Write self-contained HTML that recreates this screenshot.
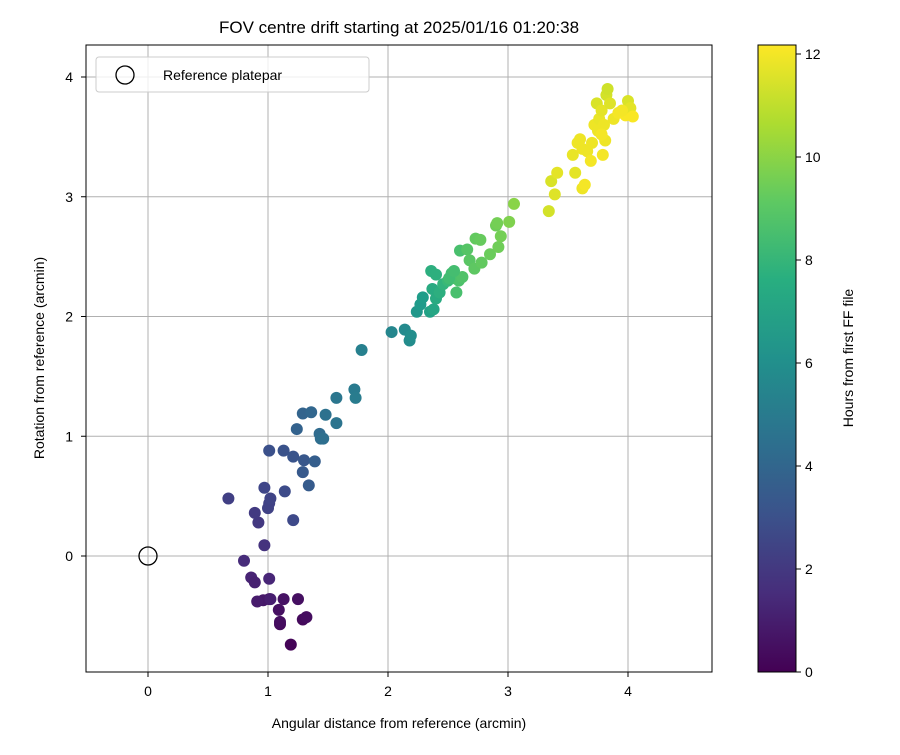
<!DOCTYPE html>
<html><head><meta charset="utf-8"><style>
body{margin:0;background:#fff;}
svg text{font-family:"Liberation Sans","DejaVu Sans",sans-serif;fill:#000;}
</style></head><body>
<svg id="chart" width="900" height="750" viewBox="0 0 900 750" xmlns="http://www.w3.org/2000/svg">
<defs>
<linearGradient id="vir" x1="0" y1="1" x2="0" y2="0">
<stop offset="0" stop-color="#440154"/><stop offset="0.125" stop-color="#472d7b"/><stop offset="0.25" stop-color="#3b528b"/><stop offset="0.375" stop-color="#2c728e"/><stop offset="0.5" stop-color="#21918c"/><stop offset="0.625" stop-color="#28ae80"/><stop offset="0.75" stop-color="#5ec962"/><stop offset="0.875" stop-color="#addc30"/><stop offset="1" stop-color="#fde725"/>
</linearGradient>
</defs>
<text x="399" y="33" font-size="17" text-anchor="middle">FOV centre drift starting at 2025/01/16 01:20:38</text>
<g id="grid"></g>
<g id="points"></g>
<rect x="86" y="45" width="626" height="627" fill="none" stroke="#000" stroke-width="1"/>
<g id="ticks"></g>
<circle cx="148" cy="556" r="9" fill="none" stroke="#000" stroke-width="1.3"/>
<g>
<rect x="96" y="57" width="273" height="35" rx="3" fill="#fff" fill-opacity="0.8" stroke="#ccc"/>
<circle cx="125" cy="75" r="9" fill="none" stroke="#000" stroke-width="1.3"/>
<text x="163" y="80" font-size="14">Reference platepar</text>
</g>
<text x="399" y="728" font-size="14" text-anchor="middle">Angular distance from reference (arcmin)</text>
<text transform="translate(44,358) rotate(-90)" font-size="14" text-anchor="middle">Rotation from reference (arcmin)</text>
<rect x="758" y="45" width="38" height="627" fill="url(#vir)" stroke="#000" stroke-width="1"/>
<g id="cbticks"></g>
<text transform="translate(853,358) rotate(-90)" font-size="14" text-anchor="middle">Hours from first FF file</text>
</svg>
<script>
const xTicks=[0,1,2,3,4];
const yTicks=[0,1,2,3,4];
const cTicks=[0,2,4,6,8,10,12];
const xs=[1.19,1.10,1.10,1.09,1.13,1.25,1.29,1.32,1.01,0.96,0.91,1.02,0.86,0.89,1.01,0.80,0.97,
0.92,0.89,0.67,1.00,1.01,1.02,0.97,1.21,1.14,
1.01,1.13,1.21,1.30,1.29,1.34,1.39,1.24,1.29,1.36,1.43,1.44,1.46,1.48,1.57,1.57,1.72,1.73,1.78,
2.03,2.14,2.18,2.19,2.24,2.27,2.29,2.35,2.38,2.37,2.36,2.40,2.40,2.43,2.46,
2.50,2.53,2.55,2.57,2.59,2.60,2.62,2.66,2.68,2.72,2.73,2.77,2.78,2.85,2.90,2.91,2.92,2.94,3.01,3.05,2.51,2.55,
3.34,3.36,3.39,3.41,3.54,3.56,3.58,3.60,3.62,3.64,3.62,3.66,3.69,3.72,3.74,3.76,3.75,3.78,3.79,3.81,3.80,3.82,3.83,3.85,3.88,3.92,3.98,4.00,4.02,4.04,3.95,3.70,3.78];
const ys=[-0.74,-0.57,-0.55,-0.45,-0.36,-0.36,-0.53,-0.51,-0.36,-0.37,-0.38,-0.36,-0.18,-0.22,-0.19,-0.04,0.09,
0.28,0.36,0.48,0.40,0.44,0.48,0.57,0.30,0.54,
0.88,0.88,0.83,0.80,0.70,0.59,0.79,1.06,1.19,1.20,1.02,0.98,0.98,1.18,1.11,1.32,1.39,1.32,1.72,
1.87,1.89,1.80,1.84,2.04,2.10,2.16,2.04,2.06,2.23,2.38,2.35,2.15,2.20,2.27,
2.30,2.36,2.32,2.20,2.30,2.55,2.33,2.56,2.47,2.40,2.65,2.64,2.45,2.52,2.76,2.78,2.58,2.67,2.79,2.94,2.32,2.38,
2.88,3.13,3.02,3.20,3.35,3.20,3.45,3.48,3.07,3.10,3.40,3.38,3.30,3.60,3.78,3.65,3.55,3.72,3.35,3.47,3.60,3.85,3.90,3.78,3.65,3.70,3.68,3.80,3.74,3.67,3.72,3.45,3.52];
const hours=[0.1,0.3,0.4,0.5,0.6,0.5,0.3,0.4,0.7,0.8,0.9,1.0,1.2,1.1,1.3,1.5,1.8,
2.0,2.1,2.3,2.4,2.4,2.5,2.6,2.7,2.8,
3.0,3.1,3.2,3.3,3.4,3.5,3.6,3.8,3.9,4.0,4.2,4.3,4.4,4.5,4.7,4.8,5.0,5.1,5.3,
5.6,5.8,5.9,6.0,6.4,6.6,6.7,7.0,7.2,7.4,7.6,7.7,7.4,7.6,7.9,
8.2,8.4,8.5,8.6,8.7,8.6,8.8,8.9,9.0,9.1,9.2,9.3,9.2,9.4,9.5,9.6,9.5,9.6,9.8,10.0,8.4,8.5,
11.4,11.5,11.6,11.7,11.8,11.7,11.9,11.9,11.9,12.0,11.9,11.9,12.0,11.9,11.5,11.8,11.9,11.7,12.0,11.9,11.9,11.4,11.3,11.6,11.9,12.0,12.1,11.5,11.7,12.1,12.0,11.9,12.0];
const X=v=>148+120*v, Y=v=>556-119.75*v, C=h=>672-51.5*h;
const vir=[[68,1,84],[72,40,120],[62,73,137],[49,104,142],[38,130,142],[31,158,137],[53,183,121],[109,205,89],[180,222,44],[253,231,37]];
function col(h){let t=Math.max(0,Math.min(1,h/12.17))*(vir.length-1);let i=Math.min(Math.floor(t),vir.length-2),f=t-i;
return 'rgb('+vir[i].map((c,k)=>Math.round(c+(vir[i+1][k]-c)*f)).join(',')+')';}
const NS='http://www.w3.org/2000/svg';
function mk(p,tag,a){const e=document.createElementNS(NS,tag);for(const k in a)e.setAttribute(k,a[k]);p.appendChild(e);return e;}
const g=document.getElementById('grid'),tk=document.getElementById('ticks'),pts=document.getElementById('points'),cb=document.getElementById('cbticks');
xTicks.forEach(v=>{const l=mk(g,'line',{x1:X(v),x2:X(v),y1:45,y2:672,stroke:'#b0b0b0','stroke-width':1});


mk(tk,'line',{x1:X(v),x2:X(v),y1:672,y2:677,stroke:'#000'});
const t=mk(tk,'text',{x:X(v),y:696,'font-size':14,'text-anchor':'middle'});t.textContent=v;

});
yTicks.forEach(v=>{const l=mk(g,'line',{x1:86,x2:712,y1:Y(v),y2:Y(v),stroke:'#b0b0b0','stroke-width':1});


mk(tk,'line',{x1:81,x2:86,y1:Y(v),y2:Y(v),stroke:'#000'});
const t=mk(tk,'text',{x:73,y:Y(v)+5,'font-size':14,'text-anchor':'end'});t.textContent=v;

});
xs.forEach((x,i)=>{const c=mk(pts,'circle',{cx:X(x),cy:Y(ys[i]),r:6,fill:col(hours[i])});

});
cTicks.forEach(v=>{mk(cb,'line',{x1:796,x2:801,y1:C(v),y2:C(v),stroke:'#000'});
const t=mk(cb,'text',{x:805,y:C(v)+5,'font-size':14});t.textContent=v;

});
</script>
</body></html>
